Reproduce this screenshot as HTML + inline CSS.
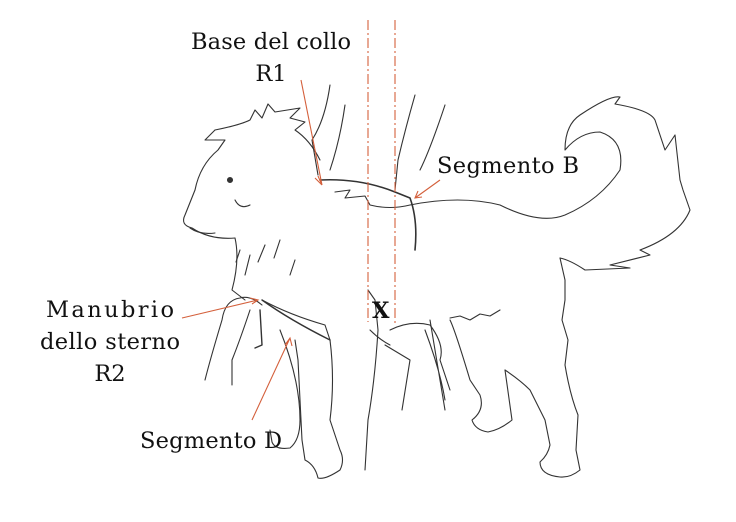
<!DOCTYPE html>
<html><head><meta charset="utf-8"><style>
html,body{margin:0;padding:0;background:#fff;}
svg{display:block}
text{font-family:"DejaVu Serif","Liberation Serif",serif;fill:#111;font-size:22.5px;}
</style></head><body>
<svg width="736" height="522" viewBox="0 0 736 522" xmlns="http://www.w3.org/2000/svg">
<g fill="none" stroke="#333" stroke-width="1.1" stroke-linejoin="round" stroke-linecap="round">
<!-- head -->
<path d="M215,130 L205,140 L225,140 L218,150 Q200,165 195,190 L185,215 Q180,225 192,228 Q210,240 235,238"/>
<path d="M190,228 Q200,235 215,233"/>
<circle cx="230" cy="180" r="2.5" fill="#333"/>
<path d="M235,200 Q240,210 250,205"/>
<path d="M215,130 Q240,125 250,120 L255,110 L262,118 L268,104 L275,112 L300,108 L290,118 L305,122 L295,130 Q310,140 320,160"/>
<path d="M235,238 Q240,260 232,290 L245,300"/>
<path d="M240,250 L236,262 M250,255 L245,275 M265,245 L258,262 M280,240 L274,258 M295,260 L290,275"/>
<!-- back & tail -->
<path d="M335,192 L350,190 L345,198 L365,196 L370,205 Q390,210 410,205 Q460,195 500,205 Q540,225 565,215 Q600,200 620,170 Q625,140 600,132 Q580,132 565,150 Q565,125 580,115 Q610,95 620,97 L615,104 Q650,110 655,120 L665,150 L675,135 L680,180 L683,190 L690,210 Q680,235 640,250 L650,255 L610,265 L630,268 L585,270 Q570,260 560,258"/>
<!-- hind legs -->
<path d="M560,258 L565,280 L565,300 L562,320 L568,340 L565,365 Q570,395 578,415 L576,450 L580,470 Q570,478 560,477 Q540,475 540,462 Q548,455 550,445 L545,420 L530,390 Q520,380 505,370"/>
<path d="M505,370 Q510,405 512,420 Q500,430 488,432 Q475,430 472,420 Q485,410 480,395 L470,380 Q455,330 450,320"/>
<path d="M450,318 L460,316 L470,320 L480,314 L490,316 L500,310"/>
<path d="M425,330 Q440,370 445,400 M430,320 L445,410"/>
<!-- front -->
<path d="M262,305 Q250,295 240,298 Q225,300 222,320 Q210,360 205,380"/>
<path d="M250,310 Q240,340 232,360 L232,385"/>
<path d="M262,300 Q290,315 325,325 L330,340 Q335,380 330,420 L340,450 Q345,460 340,470 Q325,480 318,478 Q315,465 305,460 L302,440 Q300,400 298,360 L295,340"/>
<path d="M280,330 Q300,380 300,420 Q300,440 290,448 Q275,450 272,442 L270,430"/>
<path d="M368,290 L375,300 L378,330 Q375,380 368,420 L365,470"/>
<path d="M370,330 Q380,340 390,345"/>
<!-- hands -->
<path d="M330,85 Q325,120 312,140 L318,175 M345,105 Q340,140 330,170"/>
<path d="M415,95 Q405,130 398,160 L395,190 M445,105 Q430,150 420,170"/>
<path d="M390,330 Q410,320 430,325 Q445,345 440,360 L450,390 M385,345 L410,360 L402,410"/>
<!-- tapes -->
<path d="M320,180 Q360,178 395,192 L410,198 Q418,220 415,250" stroke-width="1.6"/>
<path d="M262,300 Q290,320 330,340 M260,310 L262,345 L255,348" stroke-width="1.4"/>
</g>
<g fill="none" stroke="#d4603c" stroke-width="1.1">
<path d="M368,20 V322" stroke-dasharray="10,3,2,3"/>
<path d="M395,20 V325" stroke-dasharray="10,3,2,3"/>
<path d="M301,80 L322,185 M315,178 L322,185 L318,176"/>
<path d="M440,180 L415,198 M422,197 L415,198 L418,191"/>
<path d="M182,318 L258,300 M250,298 L258,300 L252,304"/>
<path d="M252,420 L290,338 M285,345 L290,338 L292,346"/>
</g>
<text x="271" y="49" text-anchor="middle" textLength="160">Base del collo</text>
<text x="271" y="81" text-anchor="middle">R1</text>
<text x="437" y="173" textLength="142">Segmento B</text>
<text x="110" y="317" text-anchor="middle" textLength="128">Manubrio</text>
<text x="110" y="349" text-anchor="middle" textLength="140">dello sterno</text>
<text x="110" y="381" text-anchor="middle">R2</text>
<text x="140" y="448" textLength="142">Segmento D</text>
<text x="372" y="318" style="font-weight:bold">X</text>
</svg>
</body></html>
